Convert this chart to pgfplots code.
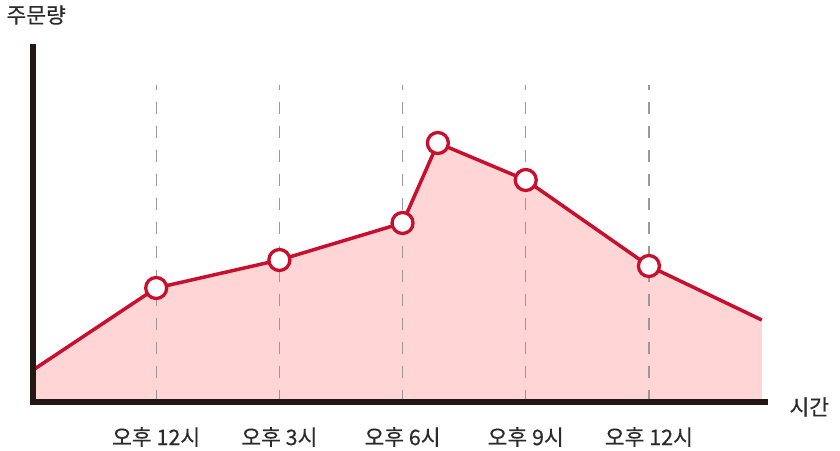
\documentclass[border=0pt]{standalone}
\usepackage{fontspec}
\setmainfont{Noto Sans CJK KR}
\newfontfamily\medfont[FakeBold=0.35]{Noto Sans CJK KR}
\usepackage{pgfplots}
\pgfplotsset{compat=1.18}
\definecolor{axisc}{HTML}{231815}
\definecolor{linec}{HTML}{C8102E}
\definecolor{fillc}{HTML}{FFD5D5}
\definecolor{gridc}{HTML}{999999}
\definecolor{textc}{HTML}{2B2B2B}
\begin{document}
\begin{tikzpicture}
\useasboundingbox (0,0) rectangle (840pt,450pt);
\begin{axis}[
  at={(33pt,47pt)}, anchor=south west,
  scale only axis, width=735pt, height=358pt,
  xmin=-3, xmax=14.9, ymin=0, ymax=358,
  axis lines=none,
  clip=false,
  xtick=\empty, ytick=\empty,
]
\addplot[draw=none, fill=fillc] coordinates {(-3,0) (-3,33) (0,115) (3,143) (6,180) (6.86,260) (9,223) (12,137) (14.75,83) (14.75,0)} -- cycle;
\foreach \x in {0,3,6,9,12} {
  \edef\temp{\noexpand\draw[gridc, line width=1.3pt, dash pattern=on 12pt off 12pt, dash phase=7pt] (axis cs:\x,318) -- (axis cs:\x,0);}
  \temp
}
\addplot[linec, line width=3.5pt, mark=*, mark size=10.5pt, mark options={fill=white, draw=linec, line width=3.3pt},
  mark indices={2,3,4,5,6,7}] coordinates {(-3,33) (0,115) (3,143) (6,180) (6.86,260) (9,223) (12,137) (14.75,83)};
\draw[axisc, line width=6.5pt, line join=miter] (rel axis cs:0,1.003) -- (rel axis cs:0,0.003) -- (rel axis cs:1,0.003);
\foreach \x/\lab in {0/오후 12시,3/오후 3시,6/오후 6시,9/오후 9시,12/오후 12시} {
  \edef\temp{\noexpand\node[textc, font=\noexpand\medfont\noexpand\fontsize{21.5pt}{24pt}\noexpand\selectfont] at (axis cs:\x,-34) {\lab};}
  \temp
}
\node[textc, font=\medfont\fontsize{21.5pt}{24pt}\selectfont, anchor=west] at (axis cs:14.9,-4) {\hspace{18pt}시간};
\node[textc, font=\medfont\fontsize{21.5pt}{24pt}\selectfont, anchor=west] at (rel axis cs:0,1) [xshift=-30pt, yshift=30pt] {주문량};
\end{axis}
\end{tikzpicture}
\end{document}
